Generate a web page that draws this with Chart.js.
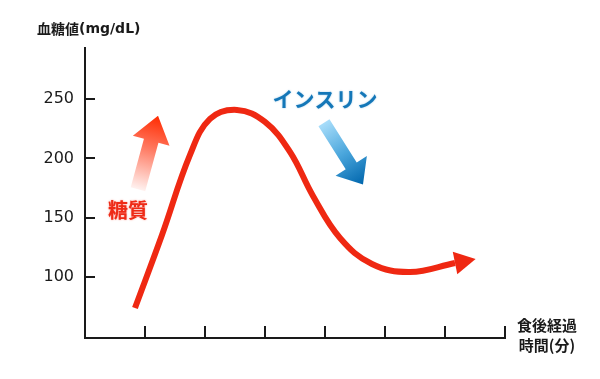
<!DOCTYPE html>
<html><head><meta charset="utf-8">
<script src="https://cdn.jsdelivr.net/npm/chart.js@4.4.1/dist/chart.umd.min.js"></script>
<style>html,body{margin:0;padding:0;background:#fff}#wrap{width:600px;height:379px;position:relative}</style>
</head><body><div id="wrap"><canvas id="c"></canvas></div>
<script>
// ---- data ----
const timeX   = [0.833, 1.283, 1.75, 2.083, 2.533, 3.0, 3.417, 3.8, 4.25, 4.783, 5.417, 6.167];
const glucose = [73.9, 135.4, 202.9, 233.2, 240.8, 230.7, 205.4, 168.3, 132.9, 111.0, 104.2, 111.8];
const yTickValues = [100, 150, 200, 250];
const xTickValues = [1, 2, 3, 4, 5, 6, 7];
const yAxisTitleCJK = '血糖値';
const yAxisTitleLatin = '(mg/dL)';
const xAxisTitle = ['食後経過', '時間(分)'];
const sugarLabel = '糖質';
const insulinLabel = 'インスリン';

// annotation anchors in data units
const sugarArrow   = {from: [0.883, 174], to: [1.217, 236]};
const insulinArrow = {from: [3.983, 230], to: [4.633, 178]};
const sugarText    = [0.717, 156.5];
const insulinText  = [4.0, 250];

const points = timeX.map((x, i) => ({x, y: glucose[i]}));

function blockArrow(ctx, x0, y0, x1, y1, sw, hw, hl, stops) {
  const dx = x1 - x0, dy = y1 - y0, L = Math.hypot(dx, dy);
  const ux = dx / L, uy = dy / L, px = -uy, py = ux;
  const bx = x1 - ux * hl, by = y1 - uy * hl;
  const g = ctx.createLinearGradient(x0, y0, x1, y1);
  stops.forEach(s => g.addColorStop(s[0], s[1]));
  ctx.beginPath();
  ctx.moveTo(x0 + px * sw / 2, y0 + py * sw / 2);
  ctx.lineTo(bx + px * sw / 2, by + py * sw / 2);
  ctx.lineTo(bx + px * hw / 2, by + py * hw / 2);
  ctx.lineTo(x1, y1);
  ctx.lineTo(bx - px * hw / 2, by - py * hw / 2);
  ctx.lineTo(bx - px * sw / 2, by - py * sw / 2);
  ctx.lineTo(x0 - px * sw / 2, y0 - py * sw / 2);
  ctx.closePath();
  ctx.fillStyle = g;
  ctx.fill();
}

const deco = {
  id: 'deco',
  afterDatasetsDraw(chart) {
    const ctx = chart.ctx;
    const meta = chart.getDatasetMeta(0);
    const n = meta.data.length;
    const last = meta.data[n - 1];
    let fx = last.cp1x, fy = last.cp1y;
    if (fx === undefined || (Math.abs(fx - last.x) < 0.01 && Math.abs(fy - last.y) < 0.01)) {
      fx = meta.data[n - 2].x; fy = meta.data[n - 2].y;
    }
    let dx = last.x - fx, dy = last.y - fy; const L = Math.hypot(dx, dy); dx /= L; dy /= L;
    const hl = 21, hw = 23;
    ctx.save();
    ctx.beginPath();
    ctx.moveTo(last.x + dx * hl, last.y + dy * hl);
    ctx.lineTo(last.x - dy * hw / 2, last.y + dx * hw / 2);
    ctx.lineTo(last.x + dy * hw / 2, last.y - dx * hw / 2);
    ctx.closePath();
    ctx.fillStyle = '#ef2812';
    ctx.fill();
    ctx.restore();
  },
  afterDraw(chart) {
    const ctx = chart.ctx, xs = chart.scales.x, ys = chart.scales.y, ca = chart.chartArea;
    ctx.save();
    ctx.strokeStyle = '#1a1a1a';
    ctx.lineWidth = 2;
    xTickValues.forEach(v => {
      const px = Math.round(xs.getPixelForValue(v));
      ctx.beginPath(); ctx.moveTo(px, ca.bottom); ctx.lineTo(px, ca.bottom - 12); ctx.stroke();
    });
    yTickValues.forEach(v => {
      const py = Math.round(ys.getPixelForValue(v));
      ctx.beginPath(); ctx.moveTo(ca.left, py); ctx.lineTo(ca.left + 10, py); ctx.stroke();
    });
    // axis titles
    ctx.fillStyle = '#1a1a1a';
    ctx.textBaseline = 'middle';
    ctx.textAlign = 'left';
    const tx = ca.left - 48, ty = ca.top - 19;
    ctx.font = 'bold 14px "Noto Sans CJK JP"';
    ctx.fillText(yAxisTitleCJK, tx, ty);
    const w1 = ctx.measureText(yAxisTitleCJK).width;
    ctx.font = 'bold 14px "DejaVu Sans"';
    ctx.fillText(yAxisTitleLatin, tx + w1, ty + 0.5);
    ctx.textAlign = 'center';
    ctx.font = 'bold 15px "Noto Sans CJK JP"';
    ctx.fillText(xAxisTitle[0], ca.right + 42, ca.bottom - 13);
    ctx.fillText(xAxisTitle[1], ca.right + 42, ca.bottom + 7);
    // decorative arrows
    blockArrow(ctx,
      xs.getPixelForValue(sugarArrow.from[0]), ys.getPixelForValue(sugarArrow.from[1]),
      xs.getPixelForValue(sugarArrow.to[0]), ys.getPixelForValue(sugarArrow.to[1]),
      15, 38, 26, [[0, '#fff1ef'], [0.55, '#ff7a62'], [1, '#ff2a00']]);
    blockArrow(ctx,
      xs.getPixelForValue(insulinArrow.from[0]), ys.getPixelForValue(insulinArrow.from[1]),
      xs.getPixelForValue(insulinArrow.to[0]), ys.getPixelForValue(insulinArrow.to[1]),
      13, 37, 22, [[0, '#a8ddfa'], [0.5, '#4aa6dc'], [1, '#0066ad']]);
    // labels
    ctx.font = 'bold 20px "Noto Sans CJK JP"';
    ctx.fillStyle = '#ee2a16';
    ctx.shadowColor = 'rgba(240,60,40,0.55)';
    ctx.shadowBlur = 2;
    ctx.fillText(sugarLabel, xs.getPixelForValue(sugarText[0]), ys.getPixelForValue(sugarText[1]));
    ctx.font = 'bold 21px "Noto Sans CJK JP"';
    ctx.fillStyle = '#1477b8';
    ctx.shadowColor = 'rgba(20,120,190,0.4)';
    ctx.fillText(insulinLabel, xs.getPixelForValue(insulinText[0]), ys.getPixelForValue(insulinText[1]));
    ctx.restore();
  }
};

new Chart(document.getElementById('c'), {
  type: 'line',
  data: {
    datasets: [{
      data: points,
      borderColor: '#ef2812',
      borderWidth: 6,
      borderCapStyle: 'butt',
      borderJoinStyle: 'round',
      tension: 0.4,
      pointRadius: 0,
      fill: false
    }]
  },
  plugins: [deco],
  options: {
    responsive: true,
    maintainAspectRatio: false,
    animation: false,
    events: [],
    layout: {padding: {top: 48, right: 95, left: 0, bottom: 0}},
    plugins: {legend: {display: false}, tooltip: {enabled: false}},
    scales: {
      x: {
        type: 'linear', min: 0, max: 7,
        grid: {display: false, drawTicks: false},
        border: {display: true, color: '#1a1a1a', width: 2},
        ticks: {display: false},
        afterFit(s) { s.height = 41; }
      },
      y: {
        type: 'linear', min: 48.6, max: 293,
        grid: {display: false, drawTicks: false},
        border: {display: true, color: '#1a1a1a', width: 2},
        afterBuildTicks(s) { s.ticks = yTickValues.map(v => ({value: v})); },
        ticks: {
          padding: 11,
          color: '#1a1a1a',
          font: {family: '"DejaVu Sans"', size: 16}
        },
        afterFit(s) { s.width = 85; }
      }
    }
  }
});
</script>
</body></html>
